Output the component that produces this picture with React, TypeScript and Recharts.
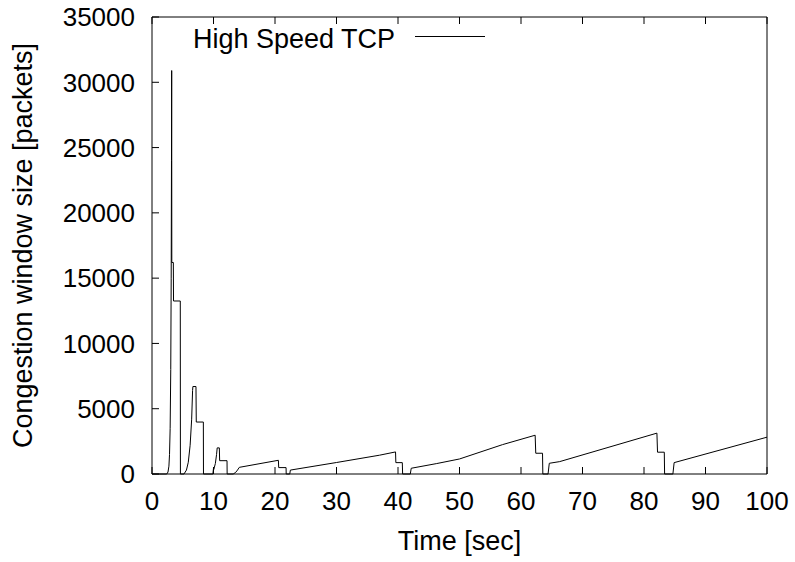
import { LineChart, Line, XAxis, YAxis, Legend, Label } from 'recharts'

// congestion window trace
const timeSec = [
  0, 2.4, 2.6, 2.75, 2.85, 2.95, 3.05, 3.12, 3.17, 3.2, 3.22, 3.47, 3.5, 4.6, 4.62,
  5.2, 5.6, 5.9, 6.2, 6.45, 6.6, 6.65, 7.15, 7.2, 8.35, 8.37,
  9.9, 10.0, 10.05, 10.3, 10.5, 10.6, 10.95, 11.0, 12.2, 12.22,
  13.2, 13.6, 13.9, 14.2, 20.55, 20.6, 21.8, 21.82,
  22.4, 22.5, 30, 37, 39.6, 39.65, 40.7, 40.75,
  42.0, 42.15, 46.3, 50, 57, 62.3, 62.4, 63.5, 63.55,
  64.4, 64.6, 66.3, 82.1, 82.2, 83.3, 83.35,
  84.7, 84.9, 100,
]
const cwnd = [
  0, 0, 150, 600, 1500, 3500, 8000, 15000, 24000, 30900, 16200, 16200, 13250, 13250, 0,
  0, 300, 900, 2200, 4200, 6400, 6700, 6700, 3980, 3980, 0,
  0, 450, 350, 800, 1500, 2000, 2000, 1020, 1020, 0,
  0, 120, 300, 510, 1050, 490, 490, 0,
  0, 300, 880, 1440, 1690, 870, 870, 0,
  0, 440, 800, 1150, 2250, 2970, 1590, 1590, 0,
  0, 820, 950, 3130, 1670, 1670, 0,
  0, 870, 2820,
]
const xTicks = [0, 10, 20, 30, 40, 50, 60, 70, 80, 90, 100]
const yTicks = [0, 5000, 10000, 15000, 20000, 25000, 30000, 35000]

const data = timeSec.map((t, i) => ({ t, w: cwnd[i] }))

const font = 'Liberation Sans, Arial, sans-serif'

function LegendBox() {
  return (
    <svg width={310} height={36}>
      <text x={8} y={27.5} fontSize={27} fontFamily={font} fill="#000">High Speed TCP</text>
      <line x1={230} x2={300} y1={16.5} y2={16.5} stroke="#000" strokeWidth={1} />
    </svg>
  )
}

export default function App() {
  const tickStyle = { fill: '#000', fontSize: 26, fontFamily: font }
  return (
    <div style={{ position: 'absolute', left: 0, top: 0, background: '#fff' }}>
      <LineChart width={795} height={562} data={data} margin={{ top: 16, right: 27, bottom: 28, left: 52 }}>
        <XAxis
          dataKey="t"
          type="number"
          domain={[0, 100]}
          ticks={xTicks}
          height={60}
          stroke="#000"
          tickSize={-7}
          tickMargin={25}
          tick={tickStyle}
          interval={0}
        >
          <Label
            content={({ viewBox }: any) => (
              <text x={viewBox.x + viewBox.width / 2} y={550} textAnchor="middle" fontSize={27} fontFamily={font} fill="#000">
                Time [sec]
              </text>
            )}
          />
        </XAxis>
        <XAxis xAxisId="top" orientation="top" dataKey="t" type="number" domain={[0, 100]} ticks={xTicks}
          height={1} stroke="#000" tickSize={-7} tick={() => <g />} interval={0} />
        <YAxis
          type="number"
          domain={[0, 35000]}
          ticks={yTicks}
          width={100}
          stroke="#000"
          tickSize={-7}
          tickMargin={24}
          tick={tickStyle}
          interval={0}
        >
          <Label
            content={({ viewBox }: any) => (
              <text
                x={23}
                y={viewBox.y + viewBox.height / 2}
                transform={`rotate(-90 23 ${viewBox.y + viewBox.height / 2})`}
                textAnchor="middle"
                dominantBaseline="central"
                fontSize={27}
                fontFamily={font}
                fill="#000"
              >
                Congestion window size [packets]
              </text>
            )}
          />
        </YAxis>
        <YAxis yAxisId="right" orientation="right" type="number" domain={[0, 35000]} ticks={yTicks}
          width={1} stroke="#000" tickSize={-7} tick={() => <g />} interval={0} />
        <Legend
          layout="horizontal"
          verticalAlign="middle"
          align="center"
          wrapperStyle={{ top: 20, left: 185, width: 310, height: 36 }}
          content={() => <LegendBox />}
        />
        <Line
          type="linear"
          dataKey="w"
          stroke="#000"
          strokeWidth={1}
          dot={false}
          isAnimationActive={false}
        />
      </LineChart>
    </div>
  )
}
